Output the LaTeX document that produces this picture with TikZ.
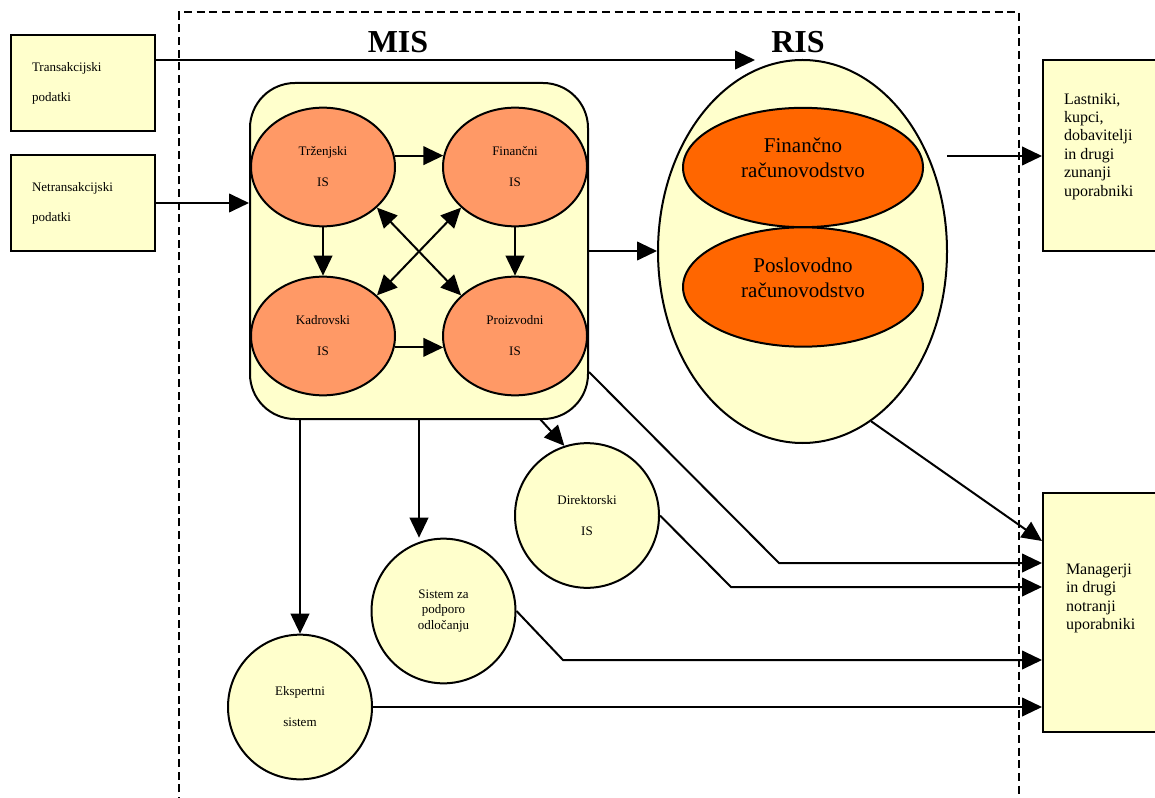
\documentclass[tikz,border=0pt]{standalone}
\usepackage{fontspec}
\setmainfont{Liberation Serif}
\usetikzlibrary{arrows.meta,shapes.geometric,calc}
\definecolor{paleyellow}{HTML}{FFFFCC}
\definecolor{salmon}{HTML}{FF9966}
\definecolor{deeporange}{HTML}{FF6600}
\newcommand{\figsmall}{\fontsize{9.75pt}{12pt}\selectfont}
\begin{document}
\begin{tikzpicture}[x=0.75pt,y=-0.75pt,
  line width=1.5pt,
  databox/.style={draw, fill=paleyellow, rectangle, minimum width=108pt, minimum height=72pt,
    inner xsep=15.75pt, text width=76.5pt, align=left, font=\figsmall},
  misbox/.style={draw, fill=paleyellow, rectangle, rounded corners=33.75pt,
    minimum width=253.5pt, minimum height=252pt},
  subsys/.style={draw, fill=salmon, ellipse, minimum width=108pt, minimum height=89pt,
    inner sep=0pt, align=center, font=\figsmall},
  risell/.style={draw, fill=paleyellow, ellipse, minimum width=216.75pt, minimum height=287.25pt},
  acc/.style={draw, fill=deeporange, ellipse, minimum width=180pt, minimum height=89.5pt, inner sep=0pt},
  acclabel/.style={font=\fontsize{15.75pt}{18.75pt}\selectfont, align=center, yshift=7pt},
  tool/.style={draw, fill=paleyellow, ellipse, minimum width=108pt, minimum height=108.5pt,
    inner sep=0pt, align=center, font=\figsmall},
  userbox/.style={draw, fill=paleyellow, rectangle, minimum width=95.25pt},
  usertext/.style={font=\fontsize{12pt}{13.8pt}\selectfont, align=left, inner sep=0pt, anchor=north west},
  headline/.style={font=\fontsize{24pt}{28pt}\selectfont\bfseries},
  arr/.style={-{Triangle[length=15pt,width=14pt]}},
  biarr/.style={{Triangle[length=15pt,width=14pt]}-{Triangle[length=15pt,width=14pt]}},
  frame/.style={line width=1.2pt, dash pattern=on 6pt off 3.5pt}]

\useasboundingbox (0,0) rectangle (1155,798);
\clip (0,0) rectangle (1155,798);

% system boundary (open at the bottom)
\draw[frame] (179,805) -- (179,12) -- (1019,12) -- (1019,805);

% data sources
\node[databox] (trans) at (83,83) {Transakcijski\\[10.5pt]podatki};
\node[databox] (net) at (83,203) {Netransakcijski\\[10.5pt]podatki};

% management information system
\node[headline] (mislabel) at (398,42) {MIS};
\node[misbox] (mis) at (419,251) {};
\node[subsys] (tr) at (323,167) {Trženjski\\[11.25pt]IS};
\node[subsys] (fi) at (515,167) {Finančni\\[11.25pt]IS};
\node[subsys] (ka) at (323,336) {Kadrovski\\[11.25pt]IS};
\node[subsys] (pr) at (515,336) {Proizvodni\\[11.25pt]IS};

% accounting information system
\node[headline] (rislabel) at (798,42) {RIS};
\node[risell] (ris) at (802.5,251.5) {};
\node[acc, label={[acclabel]center:Finančno\\računovodstvo}] (fin) at (803,167.5) {};
\node[acc, label={[acclabel]center:Poslovodno\\računovodstvo}] (pos) at (803,287) {};

% users
\node[userbox, minimum height=143.25pt] (last) at (1106.5,155.5) {};
\node[usertext] (lasttxt) at (1063,92) {Lastniki,\\kupci,\\dobavitelji\\in drugi\\zunanji\\uporabniki};
\node[userbox, minimum height=179.25pt] (mgr) at (1106.5,612.5) {};
\node[usertext] (mgrtxt) at (1065,563) {Managerji\\in drugi\\notranji\\uporabniki};

% support systems
\node[tool] (di) at (587,515.5) {Direktorski\\[11.25pt]IS};
\node[tool, font=\fontsize{9.75pt}{11.6pt}\selectfont] (si) at (443.5,611) {Sistem za\\podporo\\odločanju};
\node[tool] (ek) at (300,707) {Ekspertni\\[11.25pt]sistem};

% helper points for connectors
\coordinate (risin) at (755,60);
\coordinate (risout) at (947,156);
\coordinate (misside) at ($(mis.north east)+(0,290)$);
\coordinate (sidrop) at (419,419);
\coordinate (didrop) at (540,419);
\coordinate (bendA) at (779,563);
\coordinate (bendB) at (731,587);
\coordinate (bendC) at (563,660);
\coordinate (mgrA) at ($(mgr.north west)+(0,49)$);

% connectors
\draw[arr] (trans.east |- risin) -- (risin);
\draw[arr] (net.east) -- (net.east -| mis.west);
\draw[arr] (tr.9) -- (fi.171);
\draw[arr] (ka.-9) -- (pr.-171);
\draw[arr] (tr.south) -- (ka.north);
\draw[arr] (fi.south) -- (pr.north);
\draw[biarr] (tr.-37) -- (pr.143);
\draw[biarr] (fi.-143) -- (ka.37);
\draw[arr] (mis.east) -- (mis.east -| ris.west);
\draw[arr] (risout) -- (risout -| last.west);
\draw[arr] (ris.-68) -- (mgrA);
\draw[arr] (misside) -- (bendA) -- (bendA -| mgr.west);
\draw[arr] (di.east) -- (bendB) -- (bendB -| mgr.west);
\draw[arr] (si.east) -- (bendC) -- (bendC -| mgr.west);
\draw[arr] (ek.east) -- (ek.east -| mgr.west);
\draw[arr] (mis.south -| ek.north) -- (ek.north);
\draw[arr] (sidrop) -- (sidrop |- si.north);
\draw[arr] (didrop) -- (di.108);

\end{tikzpicture}
\end{document}
